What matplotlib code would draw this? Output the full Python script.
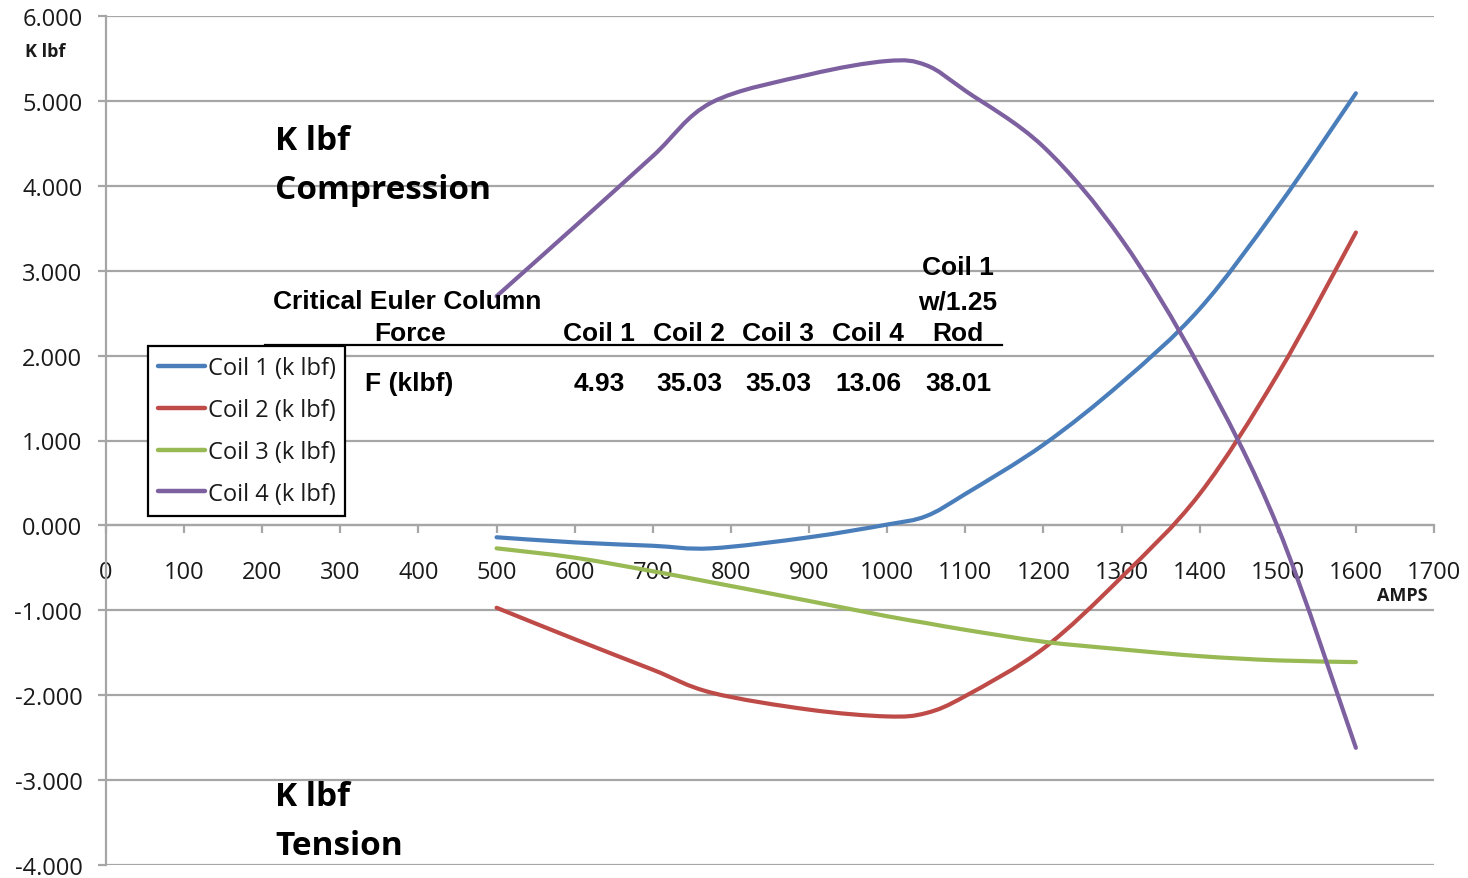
import matplotlib
matplotlib.use("Agg")
import numpy as np
import matplotlib.pyplot as plt
from matplotlib.path import Path
from matplotlib.patches import PathPatch
from matplotlib.lines import Line2D
from matplotlib.ticker import FormatStrFormatter

plt.rcParams["font.family"] = ["Open Sans", "DejaVu Sans"]

# Coil axial force vs. current
amps = [500, 600, 700, 775, 900, 1000, 1050, 1100, 1200, 1300, 1400, 1500, 1600]
coil1 = [-0.14, -0.20, -0.24, -0.27, -0.14, 0.01, 0.11, 0.37, 0.95, 1.68, 2.55, 3.75, 5.09]
coil2 = [-0.97, -1.34, -1.70, -1.97, -2.17, -2.25, -2.21, -2.01, -1.45, -0.61, 0.37, 1.78, 3.45]
coil3 = [-0.27, -0.38, -0.54, -0.67, -0.89, -1.07, -1.15, -1.23, -1.37, -1.46, -1.54, -1.59, -1.61]
coil4 = [2.70, 3.52, 4.35, 4.98, 5.31, 5.47, 5.42, 5.12, 4.46, 3.37, 1.86, -0.02, -2.62]

series_names = ["Coil 1 (k lbf)", "Coil 2 (k lbf)", "Coil 3 (k lbf)", "Coil 4 (k lbf)"]
series_colors = ["#4a7ebb", "#be4b48", "#98b954", "#7d60a0"]

# Critical Euler column force table
table_cols = ["Coil 1", "Coil 2", "Coil 3", "Coil 4", "Rod"]
table_vals = ["4.93", "35.03", "35.03", "13.06", "38.01"]

x_ticks = list(range(0, 1701, 100))
y_ticks = list(range(-4, 7))

W, H = 1468, 879
fig = plt.figure(figsize=(W / 100, H / 100), dpi=100)
ax = fig.add_axes([106 / W, 1 - 866 / H, (1434 - 106) / W, (866 - 17) / H])


def fxy(x, y):
    """Pixel position -> figure fraction."""
    return x / W, 1 - y / H


def smooth_path(xs, ys):
    """Cubic Bezier path through the points (Catmull-Rom style tangents)."""
    pts = np.column_stack([xs, ys]).astype(float)
    verts = [pts[0]]
    codes = [Path.MOVETO]
    n = len(pts)
    for i in range(n - 1):
        p0 = pts[i - 1] if i > 0 else pts[i]
        p1 = pts[i]
        p2 = pts[i + 1]
        p3 = pts[i + 2] if i + 2 < n else pts[i + 1]
        verts += [p1 + (p2 - p0) / 6.0, p2 - (p3 - p1) / 6.0, p2]
        codes += [Path.CURVE4] * 3
    return Path(np.array(verts), codes)


grid_col = "#a6a6a6"
ax.set_xlim(0, 1700)
ax.set_ylim(-4, 6)
ax.set_xticks(x_ticks)
ax.set_yticks(y_ticks)
ax.yaxis.set_major_formatter(FormatStrFormatter("%.3f"))
ax.yaxis.grid(True, color=grid_col, lw=1.6)
ax.set_axisbelow(True)

for s in ("top", "right"):
    ax.spines[s].set_visible(False)
ax.spines["left"].set_color(grid_col)
ax.spines["left"].set_linewidth(1.6)
ax.spines["bottom"].set_position(("data", 0))
ax.spines["bottom"].set_color(grid_col)
ax.spines["bottom"].set_linewidth(1.6)

ax.tick_params(axis="x", direction="out", length=6, width=1.6, color=grid_col,
               pad=19, labelsize=17, labelcolor="#1a1a1a")
ax.tick_params(axis="y", direction="out", length=6, width=1.6, color=grid_col,
               pad=11, labelsize=17, labelcolor="#1a1a1a")

handles = []
for ys, name, col in zip([coil1, coil2, coil3, coil4], series_names, series_colors):
    patch = PathPatch(smooth_path(amps, ys), fill=False, edgecolor=col, lw=3.0,
                      capstyle="round", joinstyle="round", zorder=3)
    ax.add_patch(patch)
    handles.append(Line2D([], [], color=col, lw=3.2, solid_capstyle="round"))

leg = fig.legend(handles, series_names, loc="upper left",
                 bbox_to_anchor=fxy(148, 347), borderaxespad=0,
                 fontsize=17, handlelength=2.0, handletextpad=0.1,
                 labelspacing=0.76, borderpad=0.42, fancybox=False,
                 framealpha=1, edgecolor="black")
leg.get_frame().set_linewidth(1.6)
for t in leg.get_texts():
    t.set_color("#1a1a1a")

# Axis captions
fig.text(*fxy(25, 57), "K lbf", fontsize=13, fontweight="bold", color="#1a1a1a")
fig.text(*fxy(1377, 601), "AMPS", fontsize=13, fontweight="bold", color="#1a1a1a")

big = dict(fontsize=24, fontweight="bold", color="black")
fig.text(*fxy(275, 150), "K lbf", **big)
fig.text(*fxy(275, 199), "Compression", **big)
fig.text(*fxy(275, 806), "K lbf", **big)
fig.text(*fxy(275, 855), "Tension", **big)

# Euler column force table
tbl = dict(fontsize=19, fontweight="bold", color="black",
           family=["Liberation Sans", "DejaVu Sans"])
fig.text(*fxy(273, 309), "Critical Euler Column", ha="left", **tbl)
fig.text(*fxy(410, 341), "Force", ha="center", **tbl)
col_x = [599, 689, 778, 868, 958]
fig.text(*fxy(958, 275), "Coil 1", ha="center", **tbl)
fig.text(*fxy(958, 309), "w/1.25", ha="center", **tbl)
for cx, head, val in zip(col_x, table_cols, table_vals):
    fig.text(*fxy(cx, 341), head, ha="center", **tbl)
    fig.text(*fxy(cx, 391), val, ha="center", **tbl)
fig.text(*fxy(365, 391), "F (klbf)", ha="left", **tbl)
fig.add_artist(Line2D([265 / W, 1002 / W], [1 - 346 / H, 1 - 346 / H],
                      color="black", lw=1.6))

fig.savefig("out.png", dpi=100)
